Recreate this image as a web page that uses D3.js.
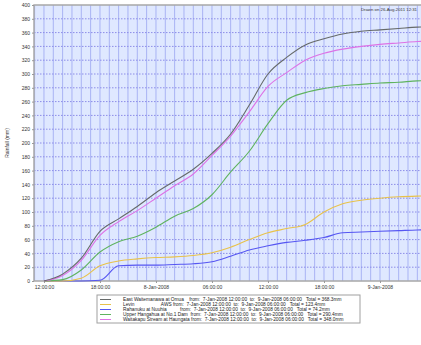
<!DOCTYPE html>
<html>
<head>
<meta charset="utf-8">
<script src="https://cdn.jsdelivr.net/npm/d3@7"></script>
<style>
  body { margin: 0; background: #fff; }
  svg { display: block; font-family: "Liberation Sans", Arial, sans-serif; }
</style>
</head>
<body>
<div id="chart"></div>
<script>
(function () {

  // readings every 2 hours from 7-Jan-2008 12:00
  const times = [
    "2008-01-07 12:00", "2008-01-07 14:00", "2008-01-07 16:00", "2008-01-07 18:00",
    "2008-01-07 20:00", "2008-01-07 22:00", "2008-01-08 00:00", "2008-01-08 02:00",
    "2008-01-08 04:00", "2008-01-08 06:00", "2008-01-08 08:00", "2008-01-08 10:00",
    "2008-01-08 12:00", "2008-01-08 14:00", "2008-01-08 16:00", "2008-01-08 18:00",
    "2008-01-08 20:00", "2008-01-08 22:00", "2008-01-09 00:00", "2008-01-09 02:00",
    "2008-01-09 04:00", "2008-01-09 06:00"
  ];

  const eastWaite = [0, 10, 33, 72, 90, 108, 128, 145, 162, 185, 213, 255, 300, 324, 342, 351, 358, 362, 364, 366, 368, 368.3];
  const levin     = [0, 0, 4, 22, 29, 32, 34, 35, 37, 41, 49, 60, 70, 76, 82, 100, 112, 117, 120, 122, 123, 123.4];
  const rahanuku  = [0, 0, 0, 1, 22, 23, 23, 24, 25, 28, 36, 45, 51, 56, 59, 63, 70, 71, 72, 73, 74, 74.2];
  const upperHang = [0, 2, 16, 42, 57, 65, 78, 94, 105, 125, 158, 188, 228, 262, 273, 279, 283, 285, 287, 288, 290, 290.4];
  const waitakapu = [0, 8, 30, 66, 86, 102, 120, 138, 155, 182, 210, 245, 282, 302, 320, 330, 336, 340, 343, 345, 347, 348];

  const seriesNames = [
    "East Waitemanawa at Omua    from:  7-Jan-2008 12:00:00  to:  9-Jan-2008 06:00:00   Total = 368.3mm",
    "Levin                    AWS from:  7-Jan-2008 12:00:00  to:  9-Jan-2008 06:00:00   Total = 123.4mm",
    "Rahanuku at Nuuhia          from:  7-Jan-2008 12:00:00  to:  9-Jan-2008 06:00:00   Total = 74.2mm",
    "Upper Hangahua at No.1 Dam  from:  7-Jan-2008 12:00:00  to:  9-Jan-2008 06:00:00   Total = 290.4mm",
    "Waitakapu Stream at Haungata from:  7-Jan-2008 12:00:00  to:  9-Jan-2008 06:00:00   Total = 348.0mm"
  ];
  const seriesColors = ["#666a6a", "#e8c24a", "#5656f2", "#5fb35f", "#dd72e6"];

  const yTicks = d3.range(0, 401, 20);
  const xTicks = [
    "2008-01-07 12:00", "2008-01-07 18:00", "2008-01-08 00:00", "2008-01-08 06:00",
    "2008-01-08 12:00", "2008-01-08 18:00", "2008-01-09 00:00"
  ];
  const drawnOn = "Drawn on 26-Aug-2011 12:31";

  const W = 421, H = 345;
  const margin = { top: 5, left: 34, bottom: 64 };
  const parse = d3.timeParse("%Y-%m-%d %H:%M");
  const t = times.map(parse);

  const svg = d3.select("#chart").append("svg")
    .attr("width", W).attr("height", H);

  // plot runs off the right side of the picture
  const x = d3.scaleTime()
    .domain([parse("2008-01-07 10:56"), parse("2008-01-09 06:00")])
    .range([margin.left, 436]);

  const y = d3.scaleLinear()
    .domain([0, 400])
    .range([H - margin.bottom, margin.top]);

  const x0 = margin.left, x1 = 436;
  const y0 = y(0), y1 = y(400);

  svg.append("rect")
    .attr("x", x0).attr("y", y1)
    .attr("width", x1 - x0).attr("height", y0 - y1)
    .attr("fill", "#dfe8ff");

  // hourly vertical grid
  const hours = d3.timeHour.range(parse("2008-01-07 11:00"), parse("2008-01-09 06:00"));
  svg.append("g").selectAll("line")
    .data(hours)
    .join("line")
    .attr("x1", d => x(d)).attr("x2", d => x(d))
    .attr("y1", y1).attr("y2", y0)
    .attr("stroke", "#a9b3f4")
    .attr("stroke-width", 1);

  // horizontal dotted grid
  svg.append("g").selectAll("line")
    .data(yTicks.slice(1, -1))
    .join("line")
    .attr("x1", x0).attr("x2", x1)
    .attr("y1", d => y(d)).attr("y2", d => y(d))
    .attr("stroke", "#8c8ce8")
    .attr("stroke-dasharray", "1.5,1.5");

  // frame
  svg.append("rect")
    .attr("x", x0).attr("y", y1)
    .attr("width", x1 - x0).attr("height", y0 - y1)
    .attr("fill", "none")
    .attr("stroke", "#a8a8a8")
    .attr("stroke-width", 1.5);

  // y axis
  const yAxis = svg.append("g")
    .attr("transform", `translate(${x0},0)`)
    .call(d3.axisLeft(y).tickValues(yTicks).tickSize(2).tickPadding(2));
  yAxis.select(".domain").remove();
  yAxis.selectAll("line").attr("stroke", "#999");
  yAxis.selectAll("text")
    .style("font-size", "5px")
    .attr("fill", "#333");

  svg.append("text")
    .attr("transform", `translate(9,${(y0 + y1) / 2}) rotate(-90)`)
    .attr("text-anchor", "middle")
    .style("font-size", "5px")
    .attr("fill", "#333")
    .text("Rainfall (mm)");

  // x axis
  const fmt = d => d.getHours() === 0 ? d3.timeFormat("%-d-%b-%Y")(d) : d3.timeFormat("%H:%M:%S")(d);
  const xAxis = svg.append("g")
    .attr("transform", `translate(0,${y0})`)
    .call(d3.axisBottom(x).tickValues(xTicks.map(parse)).tickFormat(fmt).tickSize(2).tickPadding(2));
  xAxis.select(".domain").remove();
  xAxis.selectAll("line").attr("stroke", "#999");
  xAxis.selectAll("text")
    .style("font-size", "5px")
    .attr("fill", "#333");

  // lines
  const allSeries = [eastWaite, levin, rahanuku, upperHang, waitakapu];
  const line = d3.line()
    .x((d, i) => x(t[i]))
    .y(d => y(d))
    .curve(d3.curveMonotoneX);

  const plot = svg.append("g");
  // draw order: lower ones first
  [2, 1, 3, 4, 0].forEach(k => {
    plot.append("path")
      .attr("d", line(allSeries[k]))
      .attr("fill", "none")
      .attr("stroke", seriesColors[k])
      .attr("stroke-width", 1.1);
  });

  svg.append("text")
    .attr("x", 417).attr("y", 11)
    .attr("text-anchor", "end")
    .style("font-size", "4.3px")
    .attr("fill", "#333")
    .text(drawnOn);

  // legend
  const lx = 97, ly = 295, lw = 263, lh = 28;
  svg.append("rect")
    .attr("x", lx).attr("y", ly)
    .attr("width", lw).attr("height", lh)
    .attr("fill", "#fff")
    .attr("stroke", "#a0a0a0")
    .attr("stroke-width", 1);

  const items = svg.append("g").selectAll("g")
    .data(seriesNames)
    .join("g")
    .attr("transform", (d, i) => `translate(${lx + 3},${ly + 4.5 + i * 5})`);

  items.append("line")
    .attr("x1", 0).attr("x2", 11)
    .attr("stroke", (d, i) => seriesColors[i])
    .attr("stroke-width", 1);

  items.append("text")
    .attr("x", 23)
    .attr("dy", "0.35em")
    .style("font-size", "4.8px")
    .style("white-space", "pre")
    .attr("fill", "#222")
    .text(d => d);

})();
</script>
</body>
</html>
